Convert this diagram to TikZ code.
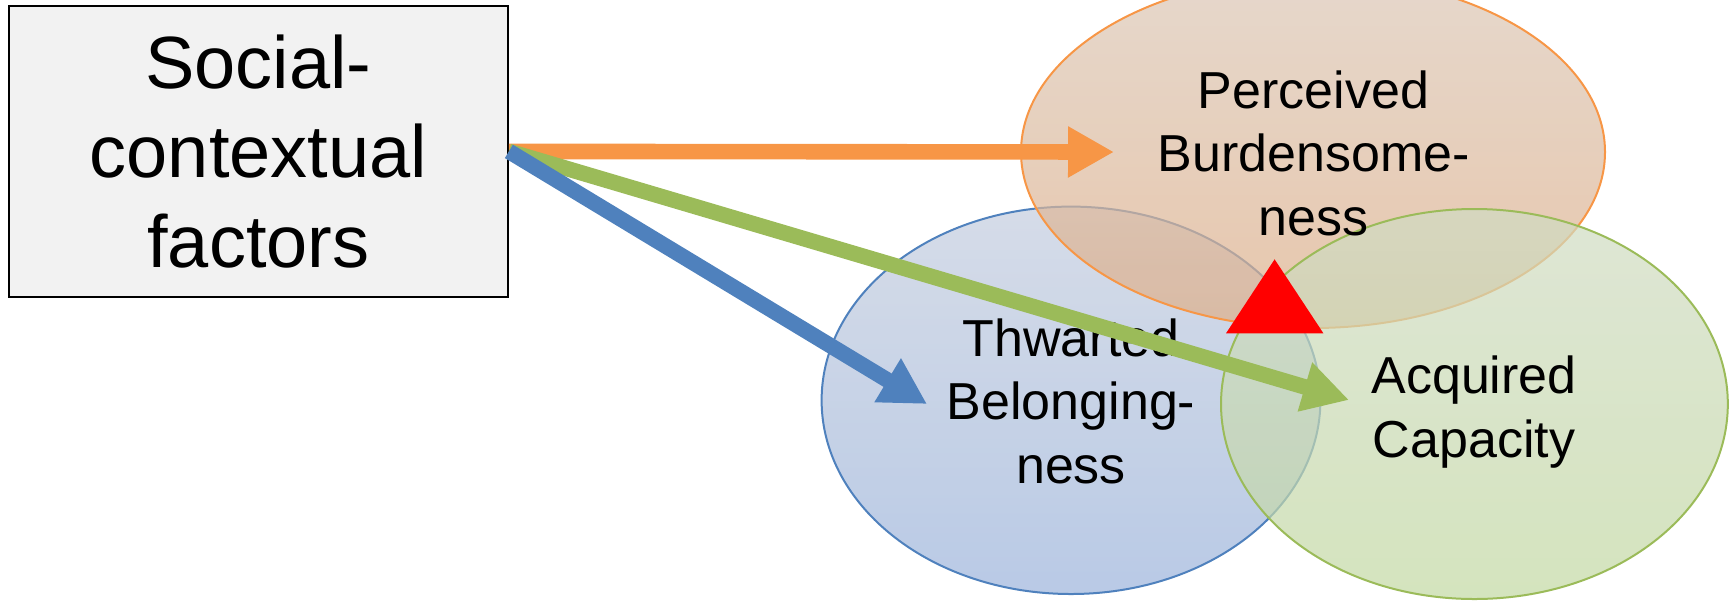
\documentclass[tikz,border=0pt]{standalone}
\usepackage{fontspec}
\setmainfont{Liberation Sans}
\usetikzlibrary{shapes.geometric,arrows.meta}
\definecolor{orline}{HTML}{F79646}
\definecolor{blline}{HTML}{4F81BD}
\definecolor{grline}{HTML}{9BBB59}
\definecolor{ortop}{RGB}{219,199,182}
\definecolor{orbot}{RGB}{222,174,136}
\definecolor{bltop}{RGB}{196,205,222}
\definecolor{blbot}{RGB}{155,179,219}
\definecolor{grtop}{RGB}{208,219,195}
\definecolor{grbot}{RGB}{194,216,162}
\definecolor{boxfill}{HTML}{F2F2F2}
\begin{document}
\begin{tikzpicture}[x=0.5pt,y=-0.5pt,
  bubble/.style={ellipse, inner sep=0pt, line width=1pt, fill opacity=0.7},
  lbl/.style={font=\fontsize{26}{31.75}\selectfont, align=center, text=black, inner sep=0pt},
  arr/.style={line width=7.8pt, -{Triangle[length=23pt,width=24pt]}},
  factorbox/.style={draw=black, line width=1pt, fill=boxfill, inner sep=0pt,
    align=center, font=\fontsize{37}{44.7}\selectfont}
]
\useasboundingbox (0,0) rectangle (1732,600);
\clip (0,0) rectangle (1732,600);

\node[factorbox, minimum width=249.5pt, minimum height=145.3pt] (sc) at (258.4,151.4) {Social-\\contextual\\factors};

\node[bubble, draw=blline, top color=bltop, bottom color=blbot,
      minimum width=249.4pt, minimum height=193.7pt] (tb) at (1071,400.3) {};
\node[bubble, draw=orline, top color=ortop, bottom color=orbot,
      minimum width=292pt, minimum height=176pt] (pb) at (1313,152) {};
\node[bubble, draw=grline, top color=grtop, bottom color=grbot,
      minimum width=253.4pt, minimum height=195pt] (ac) at (1474.4,404) {};

\node[lbl] (pbt) at (1313.5,153) {Perceived\\Burdensome-\\ness};
\node[lbl] (tbt) at (1071,401) {Thwarted\\Belonging-\\ness};
\node[lbl] (act) at (1474,412) {Acquired\\Capacity};

\coordinate (ortip) at (1114,152);
\coordinate (grtip) at (1349,400);
\coordinate (bltip) at (927,404);

\draw[arr, color=orline] (sc.east) -- (ortip);
\draw[arr, color=grline] (sc.east) -- (grtip);
\draw[arr, color=blline] (sc.east) -- (bltip);

\fill[red] (1226,333.3) -- (1274.6,259.3) -- (1323.4,333.3) -- cycle;
\end{tikzpicture}
\end{document}
